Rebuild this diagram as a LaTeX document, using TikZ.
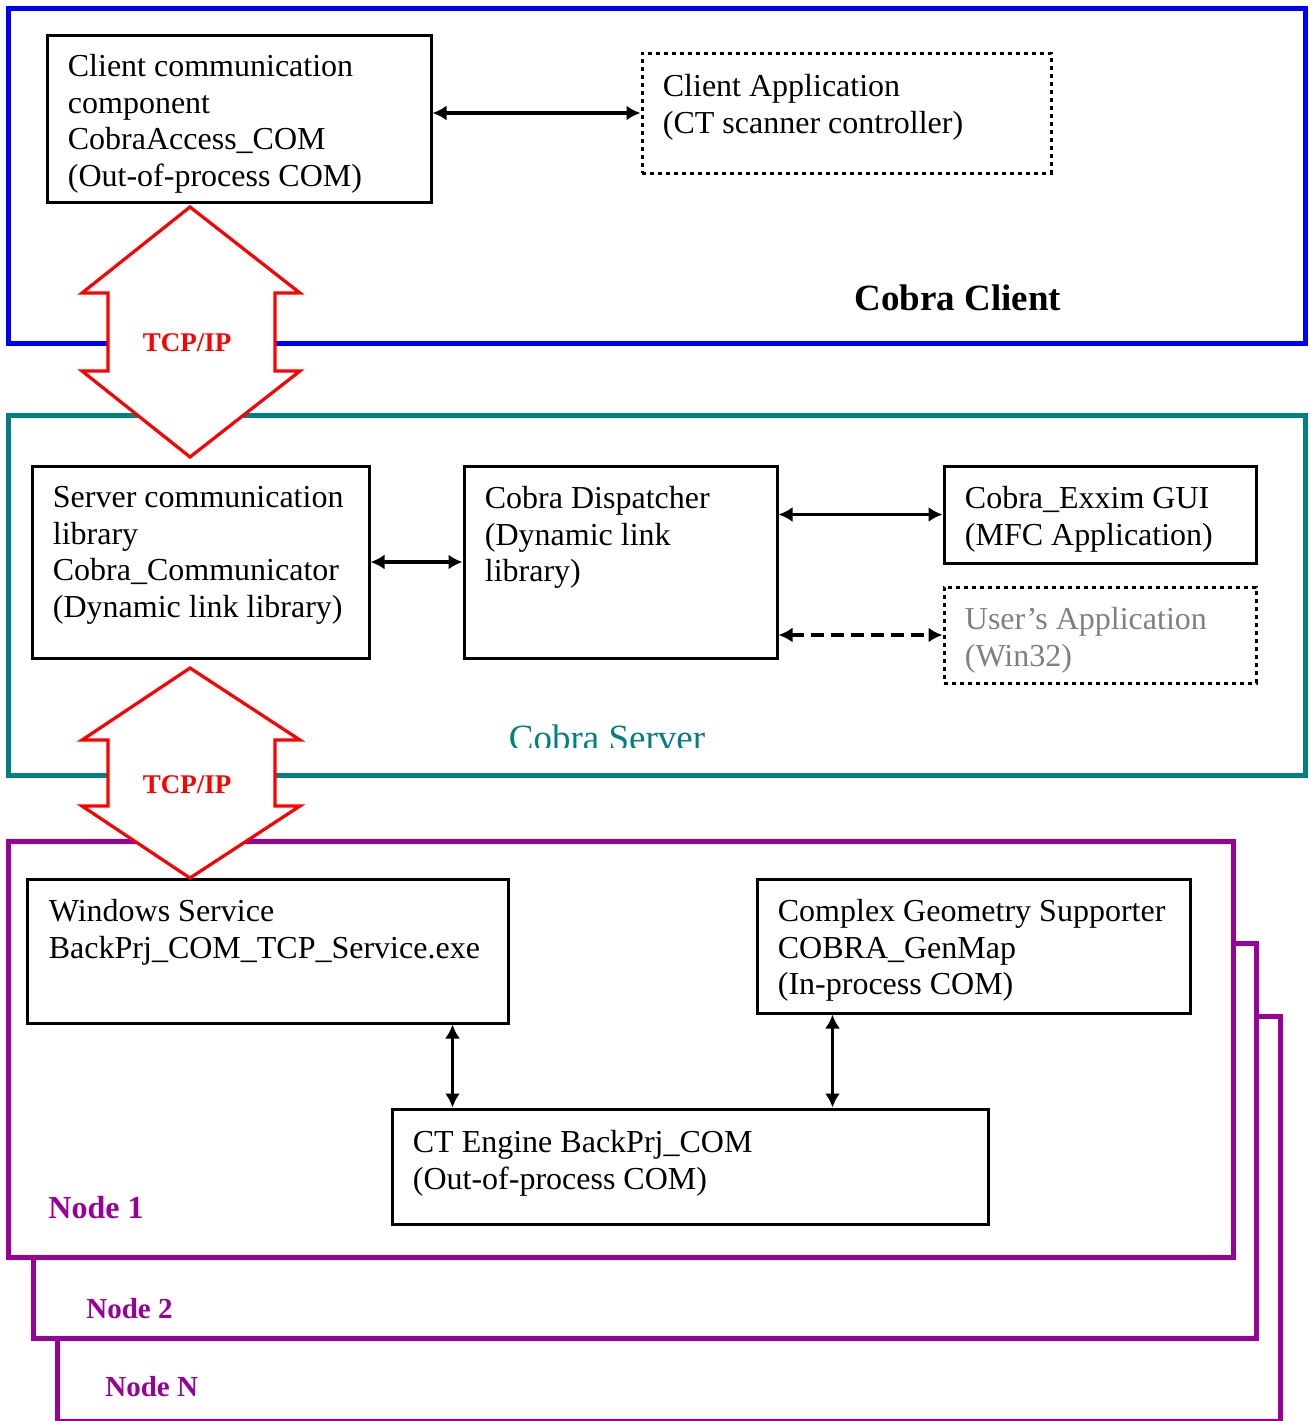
\documentclass[tikz,border=0pt]{standalone}
\usepackage{fontspec}
\setmainfont{Liberation Serif}
\usetikzlibrary{arrows.meta,fit,positioning}
\definecolor{clientblue}{RGB}{0,0,255}
\definecolor{serverteal}{RGB}{0,128,128}
\definecolor{nodepurple}{RGB}{153,0,153}

\begin{document}
\begin{tikzpicture}[x=0.5pt,y=-0.5pt,
  frame/.style={line width=2.5pt},
  box/.style={draw,line width=1.5pt,inner sep=0pt},
  dotbox/.style={box,dash pattern=on 2pt off 2pt},
  txt/.style={anchor=north west,inner sep=0pt,align=left,font=\fontsize{16}{18.45}\selectfont},
  link/.style={{Latex[length=7pt,width=7.5pt]}-{Latex[length=7pt,width=7.5pt]},line width=1.6pt},
  tcp/.style={draw=red,fill=white,line width=1.6pt,line join=miter},
  tcplabel/.style={text=red,anchor=base,inner sep=0pt,font=\fontsize{13.5}{16}\selectfont\bfseries},
  nodelabel/.style={text=nodepurple,anchor=base west,inner sep=0pt}]

  \useasboundingbox (0,0) rectangle (1311,1421);
  % frames
  \draw[frame,clientblue] (8,8) rectangle (1305,343);
  \draw[frame,serverteal] (8,415) rectangle (1305,775);
  \draw[frame,nodepurple,fill=white] (57,1016) rectangle (1280,1421);
  \draw[frame,nodepurple,fill=white] (33,943) rectangle (1256,1338);
  \draw[frame,nodepurple,fill=white] (8,841) rectangle (1233,1257);

  % client side
  \node[box,fit={(47,35) (431,202)}] (CC) {};
  \node[dotbox,fit={(642,53) (1051,173)}] (CA) {};
  \node[txt] (CC-t) at ([shift={(22,20)}]CC.north west)
    {Client communication\\component\\CobraAccess\_COM\\(Out-of-process COM)};
  \node[txt] (CA-t) at ([shift={(22,22)}]CA.north west)
    {Client Application\\(CT scanner controller)};
  \node[anchor=base,inner sep=0pt,font=\fontsize{18.5}{22}\selectfont\bfseries]
    (client) at (958,310) {Cobra Client};
  \draw[link] (CA.west -| CC.east) -- (CA.west);

  % server side
  \node[box,fit={(32,466) (369,658)}] (SC) {};
  \node[box,fit={(464,466) (777,658)}] (CD) {};
  \node[box,fit={(944,466) (1256,563)}] (GUI) {};
  \node[dotbox,fit={(944,587) (1256,683)}] (UA) {};
  \node[txt] (SC-t) at ([shift={(22,21)}]SC.north west)
    {Server communication\\library\\Cobra\_Communicator\\(Dynamic link library)};
  \node[txt] (CD-t) at ([shift={(22,21)}]CD.north west)
    {Cobra Dispatcher\\(Dynamic link\\library)};
  \node[txt] (GUI-t) at ([shift={(22,21)}]GUI.north west)
    {Cobra\_Exxim GUI\\(MFC Application)};
  \node[txt,text=gray] (UA-t) at ([shift={(22,21)}]UA.north west)
    {User’s Application\\(Win32)};
  \begin{scope}
    \clip (0,0) rectangle (1311,747);
    \node[anchor=base,inner sep=0pt,text=serverteal,font=\fontsize{18.5}{22}\selectfont]
      (server) at (607,750) {Cobra Server};
  \end{scope}
  \draw[link] (SC.east) -- (CD.west);
  \draw[link] (GUI.west -| CD.east) -- (GUI.west);
  \draw[link,dash pattern=on 6.5pt off 3.5pt] (UA.west -| CD.east) -- (UA.west);

  % nodes
  \node[box,fit={(27,879) (508,1023)}] (WS) {};
  \node[box,fit={(757,879) (1190,1013)}] (GM) {};
  \node[box,fit={(392,1109) (988,1224)}] (CT) {};
  \node[txt] (WS-t) at ([shift={(23,21)}]WS.north west)
    {Windows Service\\BackPrj\_COM\_TCP\_Service.exe};
  \node[txt] (GM-t) at ([shift={(22,21)}]GM.north west)
    {Complex Geometry Supporter\\COBRA\_GenMap\\(In-process COM)};
  \node[txt] (CT-t) at ([shift={(22,22)}]CT.north west)
    {CT Engine BackPrj\_COM\\(Out-of-process COM)};
  \coordinate (ws-ct) at ([shift={(-57,0)}]WS.south east);
  \coordinate (gm-ct) at ([shift={(77,0)}]GM.south west);
  \draw[link] (ws-ct) -- (ws-ct |- CT.north);
  \draw[link] (gm-ct) -- (gm-ct |- CT.north);
  \node[nodelabel,font=\fontsize{16}{19}\selectfont\bfseries] (n1) at (48,1218) {Node 1};
  \node[nodelabel,font=\fontsize{14.5}{17}\selectfont\bfseries] (n2) at (86,1318) {Node 2};
  \node[nodelabel,font=\fontsize{14.5}{17}\selectfont\bfseries] (nN) at (105,1396) {Node N};

  % TCP/IP arrows
  \draw[tcp] (190,207) -- (300,293) -- (275,293) -- (275,371) -- (300,371) -- (190,457)
    -- (82,371) -- (108,371) -- (108,293) -- (82,293) -- cycle;
  \node[tcplabel] (tcp1) at (187,351) {TCP/IP};
  \draw[tcp] (190,668) -- (300,740) -- (275,740) -- (275,806) -- (300,806) -- (190,878)
    -- (82,806) -- (108,806) -- (108,740) -- (82,740) -- cycle;
  \node[tcplabel] (tcp2) at (187,793) {TCP/IP};
\end{tikzpicture}
\end{document}
